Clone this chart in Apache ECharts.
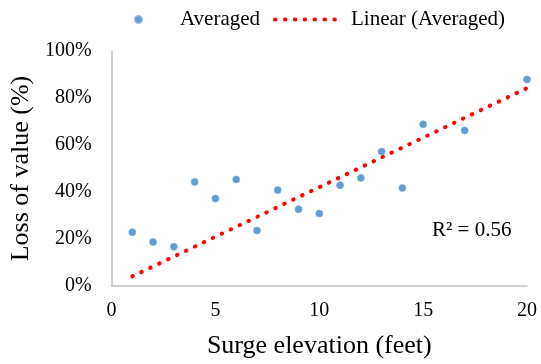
<!DOCTYPE html>
<html>
<head>
<meta charset="utf-8">
<script src="https://cdn.jsdelivr.net/npm/echarts@6/dist/echarts.min.js"></script>
<style>html,body{margin:0;padding:0;background:#fff}#c{width:541px;height:364px}</style>
</head>
<body>
<div id="c"></div>
<script>
var surgeFeet = [1, 2, 3, 4, 5, 6, 7, 8, 9, 10, 11, 12, 13, 14, 15, 17, 20];
var lossPct = [22.9, 18.7, 16.7, 44.3, 37.2, 45.3, 23.6, 40.8, 32.7, 30.8, 42.9, 46.0, 57.2, 41.7, 68.8, 66.2, 87.9];
var trendX = [1, 20];
var trendY = [4.1, 84.2];
var xTicks = [0, 5, 10, 15, 20];
var yTicks = [0, 20, 40, 60, 80, 100];
var rSquaredLabel = 'R² = 0.56';

var FONT = '"Liberation Serif", "Times New Roman", serif';
var chart = echarts.init(document.getElementById('c'), null, {renderer: 'canvas'});
var scatterData = surgeFeet.map(function (x, i) { return [x, lossPct[i]]; });
var trendData = trendX.map(function (x, i) { return [x, trendY[i]]; });
var dotted = {color: '#FF0000', width: 4, type: [0.5, 9.4], cap: 'round'};

chart.setOption({
  animation: false,
  backgroundColor: '#ffffff',
  textStyle: {fontFamily: FONT, color: '#000'},
  legend: [{
    data: ['Averaged'],
    left: 129, top: 4,
    itemWidth: 7, itemHeight: 7,
    textStyle: {fontFamily: FONT, fontSize: 21, color: '#000', padding: [0, 0, 0, 33]}
  }, {
    data: ['Linear (Averaged)'],
    left: 268, top: 4,
    itemWidth: 64, itemHeight: 8,
    itemStyle: {color: 'rgba(0,0,0,0)', borderWidth: 0},
    lineStyle: dotted,
    textStyle: {fontFamily: FONT, fontSize: 21, color: '#000', padding: [0, 0, 0, 7]}
  }],
  grid: {left: 107, right: 14, top: 51, bottom: 77, containLabel: false},
  xAxis: {
    type: 'value', min: xTicks[0], max: xTicks[xTicks.length - 1], interval: 5,
    name: 'Surge elevation (feet)', nameLocation: 'middle', nameGap: 47,
    nameTextStyle: {fontFamily: FONT, fontSize: 26, color: '#000'},
    axisLine: {show: true, lineStyle: {color: '#BFBFBF', width: 1.5}},
    axisTick: {show: false},
    splitLine: {show: false},
    axisLabel: {fontFamily: FONT, fontSize: 20, color: '#000', margin: 15}
  },
  yAxis: {
    type: 'value', min: yTicks[0], max: yTicks[yTicks.length - 1], interval: 20,
    name: 'Loss of value (%)', nameLocation: 'middle', nameGap: 74,
    nameTextStyle: {fontFamily: FONT, fontSize: 26, color: '#000'},
    axisLine: {show: true, lineStyle: {color: '#BFBFBF', width: 1.5}},
    axisTick: {show: false},
    splitLine: {show: false},
    axisLabel: {fontFamily: FONT, fontSize: 20, color: '#000', margin: 20, formatter: '{value}%'}
  },
  series: [{
    name: 'Averaged',
    type: 'scatter',
    data: scatterData,
    symbol: 'circle',
    symbolSize: 7,
    itemStyle: {color: '#3D82C4', borderColor: '#7AAFE0', borderWidth: 1},
    z: 3
  }, {
    name: 'Linear (Averaged)',
    type: 'line',
    data: trendData,
    symbol: 'none',
    lineStyle: dotted,
    itemStyle: {color: '#FF0000'},
    z: 2
  }],
  graphic: [{
    type: 'text',
    left: 432, top: 220,
    style: {text: rSquaredLabel, fontFamily: FONT, fontSize: 21, fill: '#000'}
  }]
});
</script>
</body>
</html>
